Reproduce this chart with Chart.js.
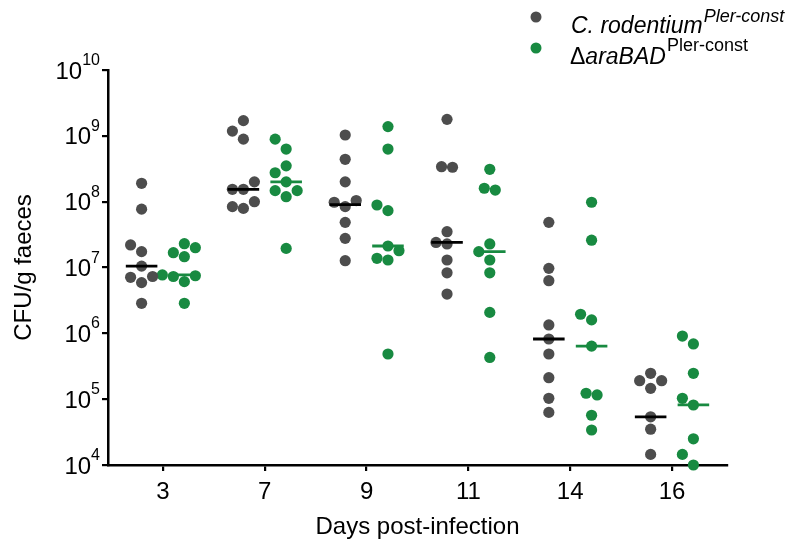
<!DOCTYPE html>
<html><head><meta charset="utf-8">
<script src="https://cdn.jsdelivr.net/npm/chart.js@4.4.1/dist/chart.umd.min.js"></script>
<style>html,body{margin:0;padding:0;background:#fff}#wrap{width:795px;height:548px}</style>
</head><body><div id="wrap"><canvas id="c" width="795" height="548"></canvas></div>
<script>
// ---- data (CFU/g faeces) ----
const days = ['3', '7', '9', '11', '14', '16'];
const rodentium = [
  [1.9e8, 7.7e7, 2.2e7, 1.74e7, 1.05e7, 7.3e6, 7.1e6, 5.9e6, 2.86e6],
  [1.7e9, 1.18e9, 8.9e8, 2.0e8, 1.54e8, 1.54e8, 1.0e8, 7.9e7, 8.4e7],
  [1.03e9, 4.4e8, 2.0e8, 1.04e8, 9.8e7, 8.4e7, 4.85e7, 2.77e7, 1.27e7],
  [1.78e9, 3.33e8, 3.4e8, 3.5e7, 2.28e7, 2.4e7, 1.3e7, 8.3e6, 3.95e6],
  [4.85e7, 9.7e6, 6.3e6, 1.34e6, 8.2e5, 4.85e5, 2.12e5, 1.03e5, 6.3e4],
  [2.47e5, 1.91e5, 1.91e5, 1.46e5, 5.4e4, 3.5e4, 1.45e4]
];
const araBAD = [
  [2.0e7, 2.3e7, 1.68e7, 1.46e7, 7.7e6, 7.3e6, 7.5e6, 6.1e6, 2.86e6],
  [8.9e8, 6.3e8, 3.5e8, 2.75e8, 2.0e8, 1.47e8, 1.47e8, 1.19e8, 1.95e7],
  [1.38e9, 6.3e8, 8.9e7, 7.3e7, 1.8e7, 2.12e7, 1.3e7, 1.38e7, 4.85e5],
  [3.1e8, 1.6e8, 1.5e8, 2.28e7, 1.74e7, 1.3e7, 8.3e6, 2.08e6, 4.3e5],
  [9.8e7, 2.6e7, 1.95e6, 1.6e6, 6.4e5, 1.16e5, 1.23e5, 5.7e4, 3.4e4],
  [9.1e5, 6.9e5, 2.47e5, 1.03e5, 8.15e4, 2.5e4, 1.45e4, 1.0e4]
];
const rodentiumMedian = [1.05e7, 1.54e8, 9.0e7, 2.4e7, 8.2e5, 5.4e4];
const araBADMedian = [7.7e6, 2.0e8, 2.12e7, 1.74e7, 6.4e5, 8.2e4];
const yTickExponents = [4, 5, 6, 7, 8, 9, 10];

// ---- style ----
const GREY = '#4d4d4d', GREEN = '#188a41';
const FONT = '"Liberation Sans", Arial, Helvetica, sans-serif';
const SHIFT = 0.21, HALF = 0.155;

function groupPoints(groups, shift) {
  const out = [];
  groups.forEach((vals, i) => vals.forEach(v => out.push({x: i + shift, y: v})));
  return out;
}
function medianSegments(meds, shift) {
  const out = [];
  meds.forEach((m, i) => {
    out.push({x: i + shift - HALF, y: m});
    out.push({x: i + shift + HALF, y: m});
    out.push({x: i + shift + HALF + 0.01, y: null});
  });
  return out;
}

const labelsPlugin = {
  id: 'labels',
  afterDraw(chart) {
    const ctx = chart.ctx, ys = chart.scales.y;
    ctx.save();
    ctx.fillStyle = '#000';
    ctx.textBaseline = 'alphabetic';
    ctx.textAlign = 'right';
    yTickExponents.forEach(e => {
      const py = ys.getPixelForValue(Math.pow(10, e));
      const exp = String(e);
      ctx.font = '16px ' + FONT;
      const ew = ctx.measureText(exp).width;
      const right = 100;
      ctx.fillText(exp, right, py - 5);
      ctx.font = '24px ' + FONT;
      ctx.fillText('10', right - ew, py + 8.5);
    });
    // legend
    ctx.textAlign = 'left';
    ctx.fillStyle = GREY;
    ctx.beginPath(); ctx.arc(536, 17, 5.5, 0, Math.PI * 2); ctx.fill();
    ctx.fillStyle = GREEN;
    ctx.beginPath(); ctx.arc(536, 48, 5.5, 0, Math.PI * 2); ctx.fill();
    ctx.fillStyle = '#000';
    let x = 571;
    ctx.font = 'italic 23px ' + FONT;
    ctx.fillText('C. rodentium', x, 33);
    x += ctx.measureText('C. rodentium').width + 1;
    ctx.font = 'italic 18px ' + FONT;
    ctx.fillText('Pler-const', x, 22);
    x = 570;
    ctx.font = '23px ' + FONT;
    ctx.fillText('\u0394', x, 64);
    x += ctx.measureText('\u0394').width;
    ctx.font = 'italic 23px ' + FONT;
    ctx.fillText('araBAD', x, 64);
    x += ctx.measureText('araBAD').width + 1;
    ctx.font = '18px ' + FONT;
    ctx.fillText('Pler-const', x, 51);
    ctx.restore();
  }
};

const chart = new Chart(document.getElementById('c'), {
  type: 'scatter',
  data: {
    datasets: [
      {label: 'median rodentium', type: 'line', data: medianSegments(rodentiumMedian, -SHIFT),
       borderColor: '#000', borderWidth: 2.8, pointRadius: 0, spanGaps: false, order: 0, fill: false},
      {label: 'median araBAD', type: 'line', data: medianSegments(araBADMedian, SHIFT),
       borderColor: GREEN, borderWidth: 2.8, pointRadius: 0, spanGaps: false, order: 0, fill: false},
      {label: 'C. rodentium', data: groupPoints(rodentium, -SHIFT), backgroundColor: GREY,
       borderWidth: 0, pointRadius: 5.6, pointHoverRadius: 5.6, order: 1, clip: false},
      {label: 'araBAD', data: groupPoints(araBAD, SHIFT), backgroundColor: GREEN,
       borderWidth: 0, pointRadius: 5.6, pointHoverRadius: 5.6, order: 1, clip: false}
    ]
  },
  options: {
    responsive: false,
    animation: false,
    events: [],
    layout: {padding: {top: 70, right: 68, left: 0, bottom: 0}},
    plugins: {legend: {display: false}, tooltip: {enabled: false}},
    scales: {
      x: {
        type: 'linear', min: -0.54, max: 5.54,
        afterBuildTicks: s => { s.ticks = days.map((d, i) => ({value: i})); },
        afterFit: s => { s.height = 83; },
        ticks: {callback: v => days[v] ?? '', font: {family: FONT, size: 24}, color: '#000',
                maxRotation: 0, autoSkip: false, padding: 7},
        grid: {drawOnChartArea: false, drawTicks: true, tickLength: 6, color: '#000', lineWidth: 2.2},
        border: {display: true, color: '#000', width: 2.5},
        title: {display: true, text: 'Days post-infection', color: '#000',
                font: {family: FONT, size: 24}, padding: {top: 0, bottom: 6}}
      },
      y: {
        type: 'logarithmic', min: 1e4, max: 1e10,
        afterBuildTicks: s => { s.ticks = yTickExponents.map(e => ({value: Math.pow(10, e)})); },
        afterFit: s => { s.width = 108; },
        ticks: {callback: () => '', padding: 0},
        grid: {drawOnChartArea: false, drawTicks: true, tickLength: 6, color: '#000', lineWidth: 2.2},
        border: {display: true, color: '#000', width: 2.5},
        title: {display: true, text: 'CFU/g faeces', color: '#000',
                font: {family: FONT, size: 24}, padding: {top: 10, bottom: 0}}
      }
    }
  },
  plugins: [labelsPlugin]
});

// beeswarm-style horizontal spreading computed through the chart's own scales
function swarm(dsIndex, groups, shift) {
  const xs = chart.scales.x, ys = chart.scales.y;
  const D = 10.8, STEP = 11;
  const pts = [];
  groups.forEach((vals, i) => {
    const cx = xs.getPixelForValue(i + shift);
    const idx = vals.map((v, k) => k).sort((a, b) => vals[a] - vals[b]);
    const placed = [];
    idx.forEach(k => {
      const py = ys.getPixelForValue(vals[k]);
      let off = 0;
      for (const c of [0, -1, 1, -2, 2, -3, 3]) {
        const px = cx + c * STEP;
        if (placed.every(p => Math.hypot(p.x - px, p.y - py) >= D)) { off = c; break; }
      }
      placed.push({x: cx + off * STEP, y: py, k});
    });
    // centre side-by-side rows (points at nearly equal height) around the column
    const comp = placed.map((p, j) => j);
    const find = j => comp[j] === j ? j : (comp[j] = find(comp[j]));
    for (let a = 0; a < placed.length; a++)
      for (let b = a + 1; b < placed.length; b++)
        if (Math.hypot(placed[a].x - placed[b].x, placed[a].y - placed[b].y) < 16)
          comp[find(a)] = find(b);
    const groupsMap = {};
    placed.forEach((p, j) => { (groupsMap[find(j)] = groupsMap[find(j)] || []).push(p); });
    Object.values(groupsMap).forEach(g => {
      if (g.length < 2) return;
      const ymn = Math.min(...g.map(p => p.y)), ymx = Math.max(...g.map(p => p.y));
      if (ymx - ymn > 5) return;
      const mn = Math.min(...g.map(p => p.x)), mx = Math.max(...g.map(p => p.x));
      const d = cx - (mn + mx) / 2;
      g.forEach(p => { p.x += d; });
    });
    placed.forEach(p => pts.push({x: xs.getValueForPixel(p.x), y: vals[p.k]}));
  });
  chart.data.datasets[dsIndex].data = pts;
}
swarm(2, rodentium, -SHIFT);
swarm(3, araBAD, SHIFT);
chart.update('none');
</script></body></html>
